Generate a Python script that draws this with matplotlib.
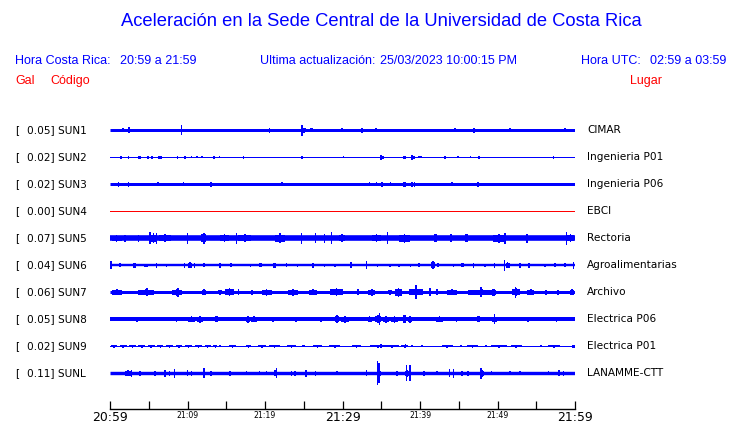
#!/usr/bin/env python3
import matplotlib
matplotlib.use("Agg")
import matplotlib.pyplot as plt

# station data, top to bottom
codes = ["SUN1", "SUN2", "SUN3", "SUN4", "SUN5", "SUN6", "SUN7", "SUN8", "SUN9", "SUNL"]
gal = [0.05, 0.02, 0.02, 0.00, 0.07, 0.04, 0.06, 0.05, 0.02, 0.11]
places = ["CIMAR", "Ingenieria P01", "Ingenieria P06", "EBCI", "Rectoria",
          "Agroalimentarias", "Archivo", "Electrica P06", "Electrica P01", "LANAMME-CTT"]

# time axis: minutes after 20:59
tick_minutes = [0, 5, 10, 15, 20, 25, 30, 35, 40, 45, 50, 55, 60]
tick_labels = ["20:59", "", "21:09", "", "21:19", "", "21:29", "", "21:39", "", "21:49", "", "21:59"]
big_ticks = ["20:59", "21:29", "21:59"]

# trace envelopes (half widths in pixels)
# base = background noise band, events = (minute, half amplitude, duration in min)
base_sun1 = 1.5
events_sun1 = [(1.7, 2, 0.2), (2.45, 3, 0.2), (4.7, 1.7, 0.2), (8.6, 1.7, 0.2), (9.25, 5, 0.2),
               (20.6, 2.3, 0.2), (24.8, 5.5, 0.2), (25.0, 2.7, 0.6), (26.0, 1.8, 0.3),
               (29.9, 1.8, 0.2), (32.5, 2.3, 0.2), (34.3, 2, 0.2), (44.5, 1.8, 0.8),
               (47.0, 2.3, 0.2), (51.6, 2, 0.2), (52.9, 1.7, 0.2), (58.7, 2, 0.2)]
base_sun2 = 0.5
events_sun2 = [(1.4, 1.3, 0.2), (2.4, 1.7, 0.2), (3.8, 1.3, 0.3), (4.9, 1.3, 0.2), (5.4, 1.3, 0.2),
               (6.45, 1.7, 0.5), (8.7, 1.3, 0.2), (9.7, 1.3, 0.2), (10.5, 1, 0.2), (11.2, 1, 0.2),
               (11.9, 1, 0.2), (13.4, 1.7, 0.2), (14.1, 1, 0.2), (17.2, 1.3, 0.2), (24.8, 1.7, 0.2),
               (30.1, 1, 0.2), (35.0, 2.3, 0.2), (35.2, 1.3, 0.4), (38.0, 1.7, 0.5), (39.0, 2.3, 0.2),
               (39.2, 1.5, 0.4), (40.0, 1, 0.4), (43.2, 1.7, 0.2), (44.9, 1, 0.2), (46.5, 1, 0.2),
               (47.6, 1.7, 0.3), (57.2, 1.3, 0.2)]
base_sun3 = 1.5
events_sun3 = [(1.1, 2.7, 0.2), (2.4, 2.7, 0.2), (6.2, 2, 0.2), (9.5, 2, 0.2), (13.0, 2.7, 0.2),
               (22.2, 2, 0.2), (33.5, 2, 0.2), (34.4, 2, 0.2), (35.1, 2.5, 0.3), (36.2, 2, 0.2),
               (38.0, 2.5, 0.4), (39.0, 2.3, 0.2), (39.3, 2.3, 0.2), (44.1, 2, 0.2), (47.5, 2.7, 0.3)]
base_sun4 = 0.5
events_sun4 = []
base_sun5 = 2.8
events_sun5 = [(0.85, 3.5, 1.3), (1.9, 3.7, 0.2), (3.7, 3.7, 0.2), (5.2, 6, 0.3), (5.6, 5, 0.6),
               (6.0, 5.5, 0.2), (7.1, 4, 1.6), (10.0, 5.5, 0.2), (12.1, 5.5, 0.6), (14.8, 4, 1.2),
               (16.3, 5.5, 0.2), (17.4, 4.2, 1.7), (21.9, 5, 1.3), (24.7, 5.5, 0.2), (26.5, 5, 0.2),
               (27.7, 4.5, 0.2), (28.6, 6, 0.2), (29.9, 4, 0.8), (34.4, 4, 1.2), (35.8, 6, 0.2),
               (38.0, 4.5, 1.3), (42.0, 4, 0.3), (44.0, 4, 0.3), (46.0, 4, 0.3), (50.2, 4.5, 1.5),
               (51.0, 5.5, 0.2), (53.8, 4.5, 0.2), (58.9, 6.5, 0.2), (59.4, 4, 1.0)]
base_sun6 = 1.2
events_sun6 = [(0.1, 4, 0.2), (1.3, 2, 0.2), (3.2, 2.2, 0.4), (4.7, 1.8, 0.5), (6.0, 2.2, 0.2),
               (7.3, 1.8, 0.2), (9.6, 2.5, 0.2), (10.3, 3, 0.5), (10.9, 2.5, 0.2), (12.1, 2, 0.2),
               (14.2, 2.2, 0.3), (15.6, 2, 0.3), (18.1, 1.8, 0.2), (19.4, 2, 0.3), (21.2, 2.5, 0.4),
               (22.8, 2, 0.2), (24.2, 1.8, 0.2), (26.2, 2.2, 0.3), (27.7, 1.8, 0.2), (29.0, 1.8, 0.2),
               (31.1, 3, 0.3), (33.1, 4, 0.2), (34.5, 1.8, 0.2), (36.1, 1.8, 0.2), (37.3, 1.8, 0.2),
               (38.8, 1.8, 0.2), (39.9, 2, 0.2), (41.7, 4, 0.5), (42.3, 2, 0.2), (44.3, 1.8, 0.2),
               (45.5, 2, 0.3), (46.9, 2.2, 0.2), (48.4, 1.8, 0.2), (49.6, 2.2, 0.2), (50.9, 5.5, 0.2),
               (51.3, 3, 0.5), (52.9, 2.2, 0.3), (54.1, 2.2, 0.3), (56.1, 1.8, 0.2), (57.4, 2, 0.2),
               (58.7, 2, 0.2), (59.8, 3.5, 0.2)]
base_sun7 = 1.5
events_sun7 = [(0.9, 3, 1.3), (4.6, 3, 2.1), (4.8, 4, 0.3), (8.6, 3.5, 1.3), (8.8, 4.5, 0.2),
               (12.1, 3, 0.5), (14.2, 2.5, 0.6), (15.4, 4, 1.1), (16.6, 3, 0.2), (18.3, 2.5, 0.2),
               (20.2, 3.5, 1.3), (23.6, 3.7, 1.3), (26.2, 3, 1.0), (29.2, 4, 1.5), (29.9, 3, 0.2),
               (32.0, 3, 0.2), (33.8, 3.5, 0.9), (36.1, 2.5, 0.5), (37.2, 4.5, 0.9), (39.5, 4, 1.9),
               (39.5, 7, 0.2), (41.3, 4, 0.2), (42.2, 3, 0.2), (44.1, 3, 1.3), (48.0, 3, 3.6),
               (47.9, 5, 0.2), (49.5, 3.5, 0.3), (52.4, 4, 1.1), (52.3, 5.5, 0.2), (54.3, 3, 0.9),
               (56.3, 2.5, 0.3), (57.8, 2.5, 0.2), (59.6, 3, 0.5)]
base_sun8 = 2.0
events_sun8 = [(3.5, 2.5, 1.0), (8.6, 2.5, 1.0), (10.5, 3, 1.0), (11.6, 3.5, 0.8), (13.7, 3, 0.4),
               (17.8, 3.5, 0.6), (18.6, 3, 0.8), (21.0, 2.8, 0.8), (24.0, 2.8, 0.6), (27.2, 2.8, 0.6),
               (29.3, 4, 0.6), (30.3, 3.5, 1.0), (33.5, 3, 0.5), (34.6, 4, 0.8), (34.8, 6, 0.2),
               (35.6, 3.5, 0.8), (36.7, 3.5, 1.0), (38.0, 4, 0.3), (38.7, 3.5, 0.6), (42.5, 3, 1.0),
               (44.7, 2.8, 0.8), (47.5, 3, 0.4), (49.6, 5, 0.2), (49.6, 3, 0.6), (53.9, 2.8, 0.5),
               (57.6, 2.8, 0.8)]
base_sun9 = 0.5
events_sun9 = [(0.5, 1.2, 0.8), (1.7, 1.2, 0.9), (2.9, 1.2, 0.8), (4.1, 1.2, 0.9), (5.3, 1.2, 0.9),
               (6.5, 1.2, 0.8), (7.7, 1.2, 0.9), (8.9, 1.2, 0.8), (10.1, 1.2, 0.9), (11.4, 1.2, 0.9),
               (12.6, 1.2, 0.8), (13.6, 1.2, 0.5), (14.2, 1.0, 0.3), (15.8, 1.2, 0.8), (17.9, 1.2, 0.6),
               (19.6, 1.2, 1.0), (21.2, 1.2, 1.4), (23.4, 1.2, 1.2), (25.0, 1.0, 0.4), (26.8, 1.2, 1.2),
               (29.0, 1.2, 1.4), (31.8, 1.2, 1.2), (34.6, 1.3, 2.0), (36.4, 1.3, 1.8), (35.0, 2, 0.2),
               (38.1, 2, 0.2), (38.0, 1.3, 0.8), (39.0, 1.0, 0.3), (40.3, 1.0, 0.3), (43.5, 1.2, 1.4),
               (45.3, 1.0, 0.6), (46.8, 1.2, 1.4), (48.5, 1.0, 0.6), (50.2, 1.2, 2.0), (52.4, 1.2, 1.4),
               (55.6, 1.0, 0.3), (57.3, 1.2, 1.6), (59.8, 1.2, 0.4)]
base_sunl = 1.7
events_sunl = [(2.3, 3, 0.8), (2.8, 3.3, 0.2), (3.9, 2.5, 0.2), (5.8, 2.3, 0.2), (7.1, 3.5, 0.2),
               (7.7, 2.5, 0.2), (8.3, 4.5, 0.2), (10.0, 3, 0.2), (10.5, 2.3, 0.2), (12.1, 5, 0.2),
               (13.0, 2.5, 0.2), (15.5, 2.5, 0.2), (17.6, 2, 0.2), (19.3, 2, 0.2), (20.2, 2, 0.2),
               (21.3, 3, 0.2), (21.5, 5, 0.2), (23.4, 2.5, 0.2), (23.9, 2.5, 0.2), (25.3, 3.5, 0.2),
               (26.5, 2.3, 0.2), (29.3, 2, 0.2), (33.1, 3, 0.2), (34.7, 3.5, 0.6), (34.5, 12, 0.2),
               (34.7, 10, 0.2), (37.0, 2.5, 0.3), (38.4, 3.5, 0.6), (38.3, 8, 0.15), (38.7, 8, 0.15),
               (40.5, 2.5, 0.3), (42.2, 2, 0.2), (43.8, 4, 0.2), (44.3, 4.5, 0.2), (45.4, 2.5, 0.2),
               (46.2, 2.5, 0.2), (47.9, 5.5, 0.2), (48.0, 3.5, 0.5), (49.2, 2, 0.2), (51.6, 2, 0.2),
               (52.9, 2, 0.2), (56.6, 2, 0.2), (57.9, 3, 0.2), (58.5, 2.5, 0.2)]

bases = [base_sun1, base_sun2, base_sun3, base_sun4, base_sun5,
         base_sun6, base_sun7, base_sun8, base_sun9, base_sunl]
events = [events_sun1, events_sun2, events_sun3, events_sun4, events_sun5,
          events_sun6, events_sun7, events_sun8, events_sun9, events_sunl]
colors = ["blue", "blue", "blue", "red", "blue", "blue", "blue", "blue", "blue", "blue"]

W, H = 740, 423
ROW = 27.0  # pixels between traces
BLUE = "#0000ff"
RED = "#ff0000"


def fpos(x, y):
    # pixel (from top-left) -> figure fraction
    return x / W, 1 - y / H


fig = plt.figure(figsize=(W / 100, H / 100), dpi=100)

# trace area: x 110..575 px, first row at y=130.3, axis line at y=409
top_px, bottom_px, row0 = 112, 409, 130.3
ax = fig.add_axes([110 / W, 1 - bottom_px / H, 465 / W, (bottom_px - top_px) / H])
ax.set_xlim(0, 60)
ax.set_ylim((bottom_px - row0) / ROW, -(row0 - top_px) / ROW)

for i in range(len(codes)):
    c = BLUE if colors[i] == "blue" else RED
    if bases[i] < 1:
        # 1px trace, no antialiasing so the colour stays bright
        ax.plot([0, 60], [i, i], color=c, lw=0.72, solid_capstyle="butt", antialiased=False)
    else:
        ax.plot([0, 60], [i, i], color=c, lw=2 * bases[i] * 0.72, solid_capstyle="butt")
    xs, hs, bs, ws = [], [], [], []
    for m, a, d in events[i]:
        if d >= 0.5:
            # a burst: wider block a bit lower, with a peak in the middle
            low = max(bases[i], 0.75 * a)
            xs.append(m); hs.append(2 * low / ROW); bs.append(i - low / ROW); ws.append(d)
            d = 0.2
        xs.append(m); hs.append(2 * a / ROW); bs.append(i - a / ROW); ws.append(d)
    if xs:
        ax.bar(xs, hs, width=ws, bottom=bs, color=c, linewidth=0, align="center")

for s in ["top", "left", "right"]:
    ax.spines[s].set_visible(False)
ax.spines["bottom"].set_linewidth(1.0)
ax.set_yticks([])
ax.set_xticks(tick_minutes)
ax.set_xticklabels(tick_labels)
ax.tick_params(axis="x", direction="in", length=6, width=0.9, pad=1.5)
for lab in ax.get_xticklabels():
    if lab.get_text() in big_ticks:
        lab.set_fontsize(8.9)
    else:
        lab.set_fontsize(5.6)

# station labels
for i in range(len(codes)):
    y = row0 + i * ROW
    fig.text(*fpos(15, y), "[", fontsize=7.6, va="center", ha="left", family="DejaVu Sans")
    fig.text(*fpos(27, y), "%.2f] %s" % (gal[i], codes[i]), fontsize=7.6, va="center",
             ha="left", family="DejaVu Sans")
    fig.text(*fpos(587, y), places[i], fontsize=7.6, va="center", ha="left", family="DejaVu Sans")

# header
hf = "Liberation Sans"
fig.text(*fpos(381, 22), "Aceleración en la Sede Central de la Universidad de Costa Rica",
         fontsize=13.2, color=BLUE, ha="center", va="center", family=hf)
fig.text(*fpos(15, 61), "Hora Costa Rica:", fontsize=9, color=BLUE, va="center", family=hf)
fig.text(*fpos(120, 61), "20:59 a 21:59", fontsize=9, color=BLUE, va="center", family=hf)
fig.text(*fpos(260, 61), "Ultima actualización:", fontsize=9, color=BLUE, va="center", family=hf)
fig.text(*fpos(380, 61), "25/03/2023 10:00:15 PM", fontsize=9, color=BLUE, va="center", family=hf)
fig.text(*fpos(581, 61), "Hora UTC:", fontsize=9, color=BLUE, va="center", family=hf)
fig.text(*fpos(650, 61), "02:59 a 03:59", fontsize=9, color=BLUE, va="center", family=hf)
fig.text(*fpos(15, 81), "Gal", fontsize=9, color=RED, va="center", family=hf)
fig.text(*fpos(50, 81), "Código", fontsize=9, color=RED, va="center", family=hf)
fig.text(*fpos(630, 81), "Lugar", fontsize=9, color=RED, va="center", family=hf)

fig.savefig("out.png", dpi=100)
